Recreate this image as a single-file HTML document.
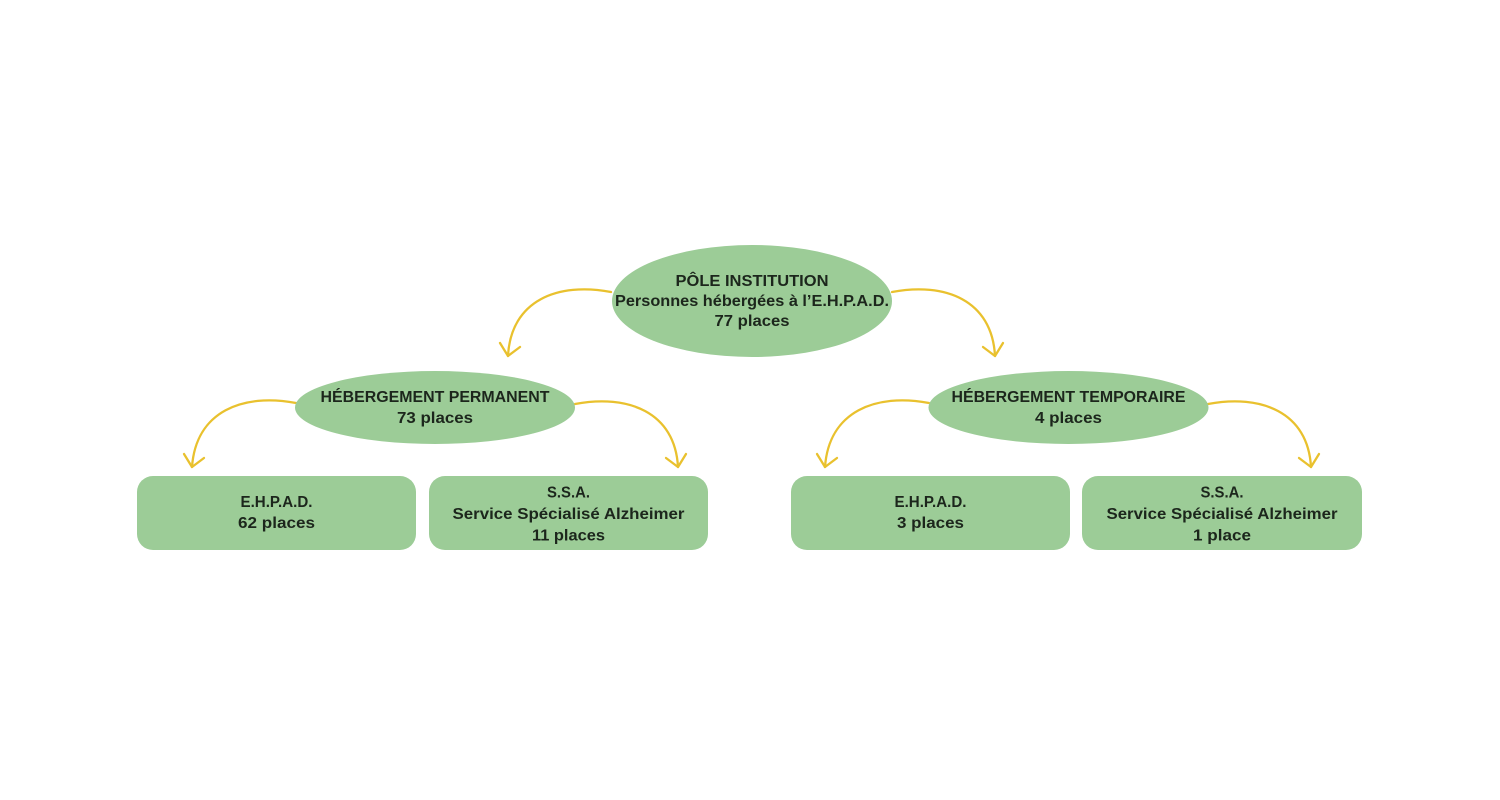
<!DOCTYPE html>
<html>
<head>
<meta charset="utf-8">
<style>
  html,body{margin:0;padding:0;background:#ffffff;}
  svg{display:block;}
  text{font-family:"Liberation Sans",sans-serif;font-weight:bold;font-size:16px;fill:#1c261c;text-anchor:middle;}
  .arr{fill:none;stroke:#e9c12e;stroke-width:2.3;stroke-linecap:round;stroke-linejoin:round;}
</style>
</head>
<body>
<svg width="1500" height="800" viewBox="0 0 1500 800" xmlns="http://www.w3.org/2000/svg">
  <rect width="1500" height="800" fill="#ffffff"/>

  <!-- connectors -->
  <path class="arr" d="M892,292 c53,-10 100,8 103,64"/>
  <path class="arr" d="M983,347 L995,356 L1003,343"/>
  <path class="arr" d="M611,292 c-53,-10 -100,8 -103,64"/>
  <path class="arr" d="M520,347 L508,356 L500,343"/>
  <path class="arr" d="M296,403 c-53,-10 -100,8 -104,64"/>
  <path class="arr" d="M204,458 L192,467 L184,454"/>
  <path class="arr" d="M575,404 c53,-10 100,8 103,63"/>
  <path class="arr" d="M666,458 L678,467 L686,454"/>
  <path class="arr" d="M929,403 c-53,-10 -100,8 -104,64"/>
  <path class="arr" d="M837,458 L825,467 L817,454"/>
  <path class="arr" d="M1208,404 c53,-10 100,8 103,63"/>
  <path class="arr" d="M1299,458 L1311,467 L1319,454"/>

  <!-- top ellipse -->
  <ellipse cx="752" cy="301" rx="140" ry="56" fill="#9ccc97"/>
  <text x="752" y="286" textLength="153" lengthAdjust="spacingAndGlyphs">PÔLE INSTITUTION</text>
  <text x="752" y="306" textLength="274" lengthAdjust="spacingAndGlyphs">Personnes hébergées à l’E.H.P.A.D.</text>
  <text x="752" y="326" textLength="75" lengthAdjust="spacingAndGlyphs">77 places</text>

  <!-- left ellipse -->
  <ellipse cx="435" cy="407.5" rx="140" ry="36.5" fill="#9ccc97"/>
  <text x="435" y="402" textLength="229" lengthAdjust="spacingAndGlyphs">HÉBERGEMENT PERMANENT</text>
  <text x="435" y="423" textLength="76" lengthAdjust="spacingAndGlyphs">73 places</text>

  <!-- right ellipse -->
  <ellipse cx="1068.5" cy="407.5" rx="140" ry="36.5" fill="#9ccc97"/>
  <text x="1068.5" y="402" textLength="234" lengthAdjust="spacingAndGlyphs">HÉBERGEMENT TEMPORAIRE</text>
  <text x="1068.5" y="423" textLength="67" lengthAdjust="spacingAndGlyphs">4 places</text>

  <!-- boxes -->
  <rect x="137" y="476" width="279" height="74" rx="16" ry="16" fill="#9ccc97"/>
  <text x="276.5" y="507" textLength="72" lengthAdjust="spacingAndGlyphs">E.H.P.A.D.</text>
  <text x="276.5" y="528" textLength="77" lengthAdjust="spacingAndGlyphs">62 places</text>

  <rect x="429" y="476" width="279" height="74" rx="16" ry="16" fill="#9ccc97"/>
  <text x="568.5" y="497.5" textLength="43" lengthAdjust="spacingAndGlyphs">S.S.A.</text>
  <text x="568.5" y="519" textLength="232" lengthAdjust="spacingAndGlyphs">Service Spécialisé Alzheimer</text>
  <text x="568.5" y="540.5" textLength="73" lengthAdjust="spacingAndGlyphs">11 places</text>

  <rect x="791" y="476" width="279" height="74" rx="16" ry="16" fill="#9ccc97"/>
  <text x="930.5" y="507" textLength="72" lengthAdjust="spacingAndGlyphs">E.H.P.A.D.</text>
  <text x="930.5" y="528" textLength="67" lengthAdjust="spacingAndGlyphs">3 places</text>

  <rect x="1082" y="476" width="280" height="74" rx="16" ry="16" fill="#9ccc97"/>
  <text x="1222" y="497.5" textLength="43" lengthAdjust="spacingAndGlyphs">S.S.A.</text>
  <text x="1222" y="519" textLength="231" lengthAdjust="spacingAndGlyphs">Service Spécialisé Alzheimer</text>
  <text x="1222" y="540.5" textLength="58" lengthAdjust="spacingAndGlyphs">1 place</text>
</svg>
</body>
</html>
